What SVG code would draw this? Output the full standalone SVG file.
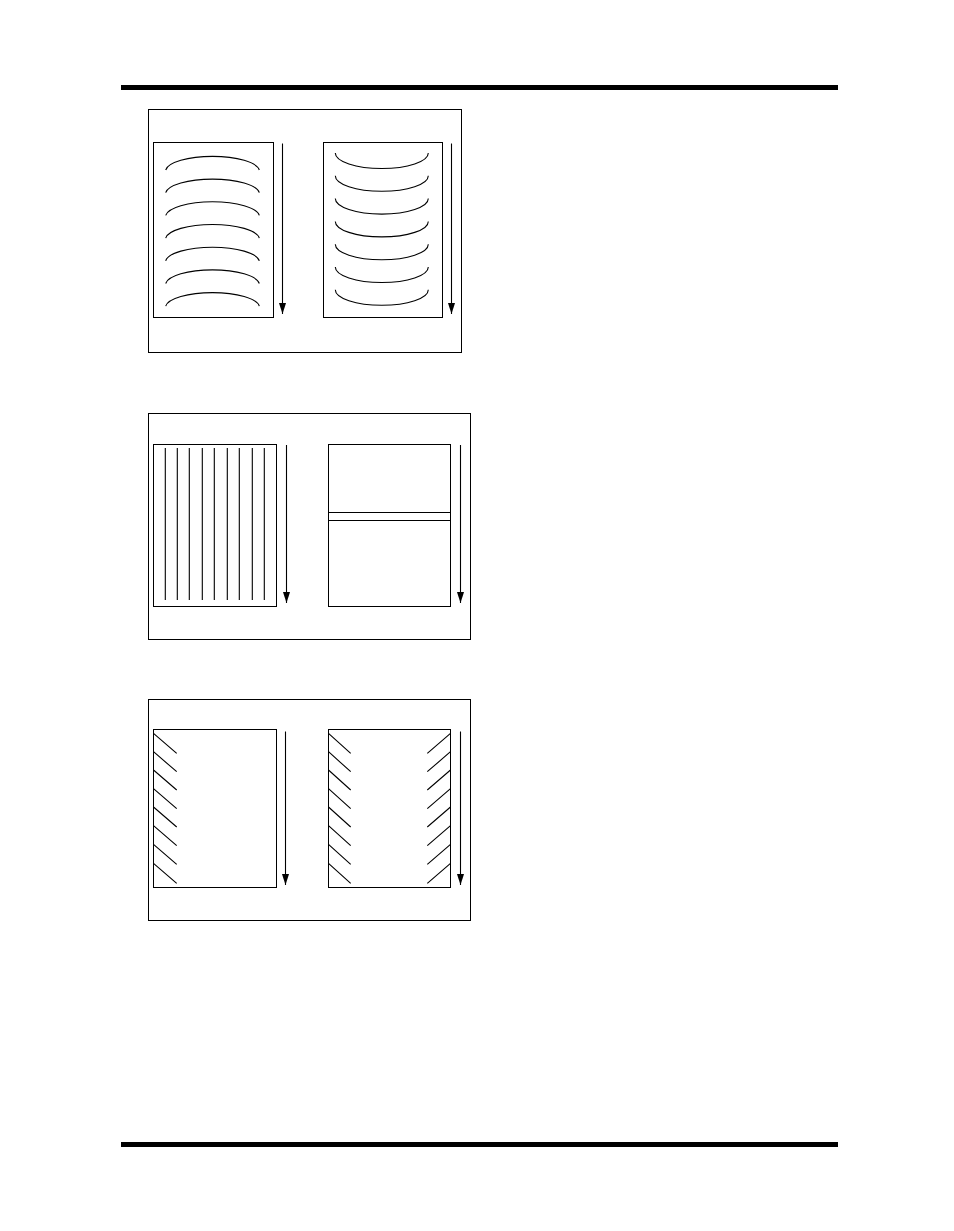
<svg xmlns="http://www.w3.org/2000/svg" width="954" height="1231" viewBox="0 0 954 1231">
<style>
.box{fill:none;stroke:#000;stroke-width:1}
.ln{fill:none;stroke:#000;stroke-width:1.1}
.ar{stroke:#000;stroke-width:1.1;fill:none}
</style>
<defs>
<marker id="ah" markerWidth="11" markerHeight="7" refX="11" refY="3.5" orient="auto" markerUnits="userSpaceOnUse" viewBox="0 0 11 7">
<path d="M0,0 L11,3.5 L0,7 Z" fill="#000"/>
</marker>
</defs>
<rect width="954" height="1231" fill="#fff"/>
<rect x="121" y="85" width="717" height="5" fill="#000"/>
<rect x="121" y="1142" width="717" height="5" fill="#000"/>

<g id="panel1">
<rect class="box" x="148.5" y="109.5" width="313" height="243"/>
<g id="p1-left">
<rect class="box" x="153.5" y="142.5" width="120" height="175"/>
<path class="ln" d="M165.7,170 A47,15 0 0 1 259.3,170 M165.7,192.7 A47,15 0 0 1 259.3,192.7 M165.7,215.4 A47,15 0 0 1 259.3,215.4 M165.7,238.1 A47,15 0 0 1 259.3,238.1 M165.7,260.8 A47,15 0 0 1 259.3,260.8 M165.7,283.5 A47,15 0 0 1 259.3,283.5 M165.7,306.2 A47,15 0 0 1 259.3,306.2"/>
</g>
<g id="p1-right">
<rect class="box" x="323.5" y="142.5" width="119" height="175"/>
<path class="ln" d="M335.3,153 A46.5,15.5 0 0 0 428.3,153 M335.3,175.8 A46.5,15.5 0 0 0 428.3,175.8 M335.3,198.6 A46.5,15.5 0 0 0 428.3,198.6 M335.3,221.4 A46.5,15.5 0 0 0 428.3,221.4 M335.3,244.2 A46.5,15.5 0 0 0 428.3,244.2 M335.3,267 A46.5,15.5 0 0 0 428.3,267 M335.3,289.8 A46.5,15.5 0 0 0 428.3,289.8"/>
</g>
</g>

<g id="panel2">
<rect class="box" x="148.5" y="413.5" width="322" height="226"/>
<g id="p2-left">
<rect class="box" x="153.5" y="444.5" width="123" height="162"/>
<path class="ln" d="M165.3,448 V600 M177.3,448 V600 M189.3,448 V600 M202.3,448 V600 M214.3,448 V600 M227.3,448 V600 M239.3,448 V600 M252.3,448 V600 M264.3,448 V600"/>
</g>
<g id="p2-right">
<rect class="box" x="328.5" y="444.5" width="122" height="162"/>
<path class="ln" d="M328.5,512.5 H450.5 M328.5,520.5 H450.5"/>
</g>
</g>

<g id="panel3">
<rect class="box" x="148.5" y="699.5" width="322" height="221"/>
<g id="p3-left">
<rect class="box" x="153.5" y="729.5" width="123" height="158"/>
<path class="ln" d="M153.5,733.3 L176.7,753.3 M153.5,751.7 L176.7,771.7 M153.5,770 L176.7,790 M153.5,788.7 L176.7,808.7 M153.5,807 L176.7,827 M153.5,825.7 L176.7,845.7 M153.5,844.3 L176.7,864.3 M153.5,863.3 L176.7,883.3"/>
</g>
<g id="p3-right">
<rect class="box" x="328.5" y="729.5" width="122" height="158"/>
<path class="ln" d="M328.5,733.3 L350.7,753.3 M328.5,751.7 L350.7,771.7 M328.5,770 L350.7,790 M328.5,788.7 L350.7,808.7 M328.5,807 L350.7,827 M328.5,825.7 L350.7,845.7 M328.5,844.3 L350.7,864.3 M328.5,863.3 L350.7,883.3"/>
<path class="ln" d="M450.5,733.3 L427.3,753.3 M450.5,751.7 L427.3,771.7 M450.5,770 L427.3,790 M450.5,788.7 L427.3,808.7 M450.5,807 L427.3,827 M450.5,825.7 L427.3,845.7 M450.5,844.3 L427.3,864.3 M450.5,863.3 L427.3,883.3"/>
</g>
</g>

<g id="connectors">
<line class="ar" x1="282.5" y1="143.5" x2="282.5" y2="314" marker-end="url(#ah)"/>
<line class="ar" x1="451.5" y1="143.5" x2="451.5" y2="314" marker-end="url(#ah)"/>
<line class="ar" x1="286.5" y1="445" x2="286.5" y2="603" marker-end="url(#ah)"/>
<line class="ar" x1="460.5" y1="445" x2="460.5" y2="603" marker-end="url(#ah)"/>
<line class="ar" x1="285.5" y1="731.5" x2="285.5" y2="885" marker-end="url(#ah)"/>
<line class="ar" x1="460.5" y1="731.5" x2="460.5" y2="885" marker-end="url(#ah)"/>
</g>
</svg>
